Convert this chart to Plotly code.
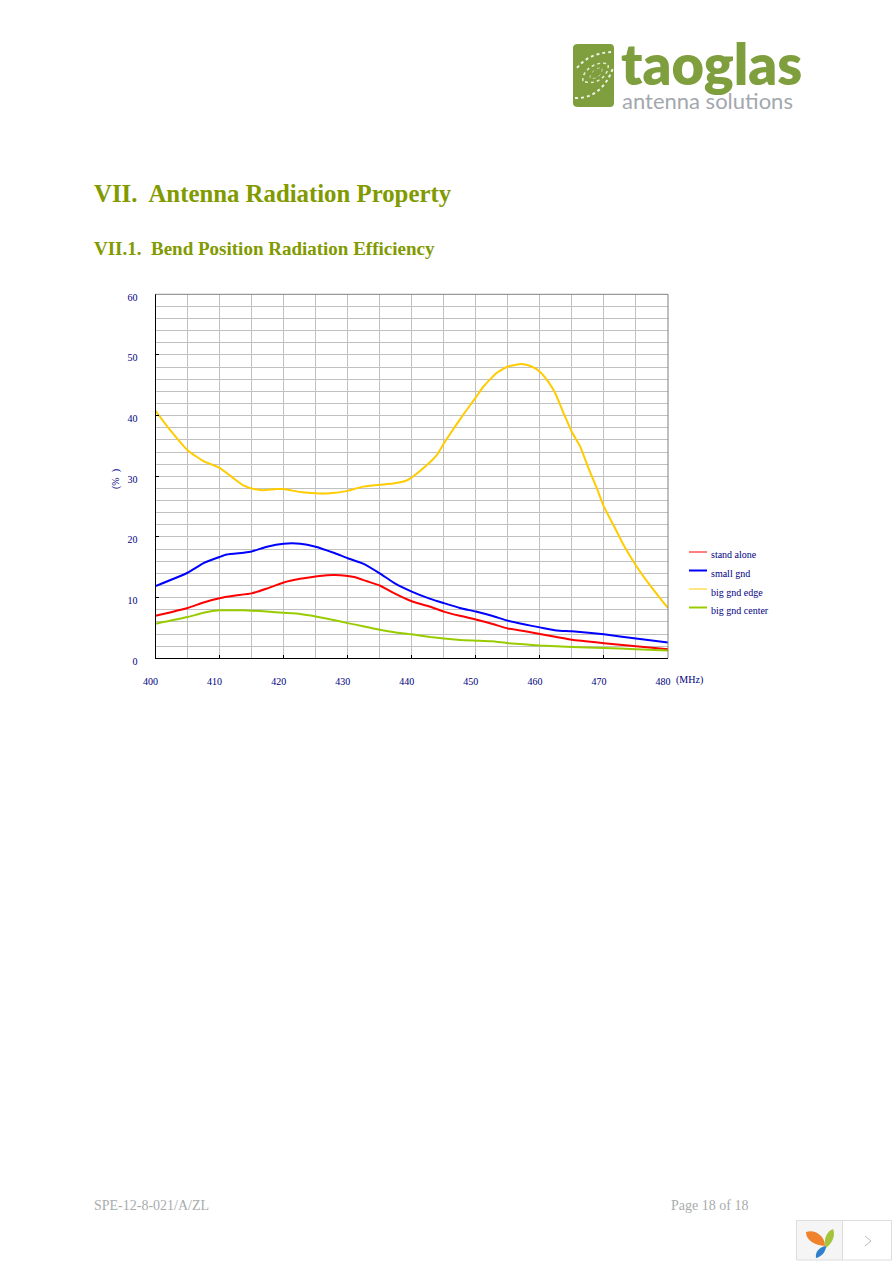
import plotly.graph_objects as go

W, H = 892, 1262

# ---------- data ----------
series_names = ["stand alone", "small gnd", "big gnd edge", "big gnd center"]
series_colors = ["#FF0000", "#0000FF", "#FFCC00", "#99CC00"]

red_x = [400, 405, 407.5, 410, 412.2, 415, 417.4, 420, 422.6, 425, 426.7, 428.9, 431, 433, 435,
         437.3, 440, 442.9, 445, 447.5, 450, 452.5, 455, 457.5, 460, 462.6, 465, 470, 475, 480]
red_y = [7.0, 8.3, 9.2, 9.9, 10.3, 10.7, 11.5, 12.5, 13.1, 13.5, 13.7, 13.7, 13.4, 12.7, 12.0,
         10.7, 9.4, 8.5, 7.7, 7.0, 6.4, 5.7, 4.9, 4.5, 4.0, 3.5, 3.05, 2.5, 2.0, 1.5]

blue_x = [400, 405, 407.5, 410, 411.1, 413.7, 415, 417.4, 420, 422.6, 425, 427.8, 430, 432.4, 435,
          437.3, 440, 442.9, 445, 447.5, 450, 452.5, 455, 457.5, 460, 462.6, 465, 470, 475, 480]
blue_y = [11.9, 14.1, 15.7, 16.7, 17.1, 17.4, 17.6, 18.4, 18.9, 18.9, 18.4, 17.4, 16.5, 15.6, 14.0,
          12.4, 11.0, 9.8, 9.1, 8.3, 7.7, 7.0, 6.2, 5.6, 5.1, 4.6, 4.45, 3.95, 3.25, 2.6]

yellow_x = [400, 402.3, 405, 407.5, 410, 411.9, 413.7, 415, 416.6, 418.9, 420, 422.6, 425, 427.2,
            430, 432.4, 435, 437.1, 439.2, 440, 442.1, 443.9, 445, 446.7, 448, 450, 451.2, 453.2,
            455, 457.2, 458.7, 460, 461.3, 462.4, 463.7, 465, 466.3, 467.6, 468.9, 470, 471.9,
            473, 475, 477, 479, 480]
yellow_y = [40.8, 37.6, 34.3, 32.5, 31.4, 29.9, 28.5, 28.0, 27.7, 27.9, 27.9, 27.4, 27.2, 27.2,
            27.6, 28.3, 28.6, 28.8, 29.3, 29.8, 31.6, 33.5, 35.4, 38.1, 40.1, 43.0, 44.8, 47.0,
            48.1, 48.5, 48.1, 47.25, 45.6, 43.7, 40.4, 37.3, 34.9, 31.3, 28.0, 25.0, 21.1,
            18.8, 15.3, 12.3, 9.6, 8.3]

green_x = [400, 405, 407.5, 410, 413.7, 417.4, 420, 422.6, 425, 427.8, 430, 432.4, 435, 437.3, 440,
           442.9, 445, 447.5, 450, 452.5, 455, 457.5, 460, 465, 470, 475, 480]
green_y = [5.7, 6.8, 7.5, 7.9, 7.9, 7.7, 7.5, 7.3, 6.9, 6.3, 5.8, 5.3, 4.7, 4.3, 3.95,
           3.5, 3.25, 3.0, 2.9, 2.8, 2.5, 2.3, 2.1, 1.85, 1.7, 1.5, 1.3]

x_ticks = [400, 410, 420, 430, 440, 450, 460, 470, 480]
y_ticks = [0, 10, 20, 30, 40, 50, 60]

heading = "VII.  Antenna Radiation Property"
subheading = "VII.1.  Bend Position Radiation Efficiency"
footer_left = "SPE-12-8-021/A/ZL"
footer_right = "Page 18 of 18"
x_unit = "(MHz)"
y_unit = "(%  )"


def X(p):
    return p / W


def Y(p):
    return 1 - p / H


NAVY = "#000080"
OLIVE = "#809A00"
fig = go.Figure()
for name, color, xs, ys in zip(series_names, series_colors,
                               [red_x, blue_x, yellow_x, green_x],
                               [red_y, blue_y, yellow_y, green_y]):
    fig.add_trace(go.Scatter(x=xs, y=ys, name=name, mode="lines",
                             line=dict(color=color, width=2, shape="spline", smoothing=0.5),
                             showlegend=False))

shapes = []
annots = []


def text(s, px, py, size, color, family="Liberation Serif", bold=False, anchor="left", angle=0, weight=None):
    f = dict(size=size, color=color, family=family)
    if weight:
        f["weight"] = weight
    # annotations carry about 2px of padding on the anchored side
    dx = -2 if anchor == "left" else 0
    annots.append(dict(text=f"<b>{s}</b>" if bold else s, x=X(px + dx), y=Y(py), xref="paper", yref="paper",
                       xanchor=anchor, yanchor="middle", showarrow=False, textangle=angle, font=f))


def path(pts, fill=None, line=None, width=1, dash=None, close=False):
    d = ""
    for seg in pts:
        d += seg[0]
        v = seg[1:]
        d += " ".join(f"{v[i]},{v[i+1]}" for i in range(0, len(v), 2)) + " "
    if close:
        d += "Z"
    s = dict(type="path", path=d, xref="paper", yref="paper", layer="above",
             line=dict(width=width if line else 0, color=line or "rgba(0,0,0,0)"))
    if dash:
        s["line"]["dash"] = dash
    if fill:
        s["fillcolor"] = fill
    shapes.append(s)


def pp(seq):
    out = []
    for seg in seq:
        c = seg[0]
        v = seg[1:]
        nv = []
        for i in range(0, len(v), 2):
            nv += [round(X(v[i]), 5), round(Y(v[i + 1]), 5)]
        out.append((c, *nv))
    return out


# headings and footer
text(heading, 94, 193.5, 24.8, OLIVE, bold=True)
text(subheading, 94, 249, 19, OLIVE, bold=True)
text(footer_left, 94, 1205, 14, "#A8ACAC")
text(footer_right, 671, 1205, 14, "#A8ACAC")

# axis units
text(x_unit, 675.5, 680, 10, NAVY)
text(y_unit, 116, 479, 10, NAVY, anchor="center", angle=-90)

# plot frame top / right
shapes.append(dict(type="line", xref="x domain", yref="y domain", x0=0, x1=1, y0=1, y1=1,
                   line=dict(color="#808080", width=1), layer="above"))
shapes.append(dict(type="line", xref="x domain", yref="y domain", x0=1, x1=1, y0=0, y1=1,
                   line=dict(color="#808080", width=1), layer="above"))

# legend
legend_y = [552, 570.5, 589, 607.5]
legend_w = [1, 2, 1, 2]
for n, c, ly, lw in zip(series_names, series_colors, legend_y, legend_w):
    shapes.append(dict(type="line", xref="paper", yref="paper", x0=X(689), x1=X(707), y0=Y(ly), y1=Y(ly),
                       line=dict(color=c, width=lw)))
    text(n, 710.5, ly + 3, 10, NAVY)

# logo
LG = "#7F9F3F"
path(pp([("M", 578, 44), ("L", 610, 44), ("Q", 614, 44, 614, 48), ("L", 614, 103), ("Q", 614, 107, 610, 107),
         ("L", 578, 107), ("Q", 573, 107, 573, 103), ("L", 573, 48), ("Q", 573, 44, 578, 44)]),
     fill=LG, close=True)
path(pp([("M", 577, 68), ("C", 585, 58, 596, 53, 611, 52)]), line="#EEF2E2", width=2, dash="dot")
path(pp([("M", 575, 98), ("C", 592, 99, 606, 88, 613, 68)]), line="#EEF2E2", width=2, dash="dot")
path(pp([("M", 583, 81), ("C", 581, 72, 595, 60, 608, 64), ("C", 610, 74, 597, 87, 583, 81)]),
     line="#E4EBD2", width=1.5, dash="dot")
path(pp([("M", 590, 78), ("C", 590, 72, 597, 67, 602, 68), ("C", 603, 74, 597, 80, 590, 78)]),
     line="#C9D6A8", width=1, dash="dot")
text("taoglas", 620.5, 63, 56, LG, family="Lato", weight=800)
text("antenna solutions", 622, 100.5, 22, "#A3A7AE", family="Lato")

# corner widget
shapes.append(dict(type="rect", xref="paper", yref="paper", x0=X(796.5), x1=X(842.5), y0=Y(1260), y1=Y(1220.5),
                   fillcolor="#F5F5F5", line=dict(color="#DDDDDD", width=1)))
shapes.append(dict(type="rect", xref="paper", yref="paper", x0=X(842.5), x1=X(891.5), y0=Y(1260), y1=Y(1220.5),
                   fillcolor="#FFFFFF", line=dict(color="#DDDDDD", width=1)))
path(pp([("M", 806, 1232), ("C", 815, 1229, 825, 1236, 825, 1246), ("C", 815, 1245, 806, 1241, 806, 1232)]),
     fill="#F0822D", close=True)
path(pp([("M", 833, 1229), ("C", 836, 1236, 832, 1243, 826, 1248), ("C", 823, 1240, 826, 1232, 833, 1229)]),
     fill="#A4C43C", close=True)
path(pp([("M", 826, 1246), ("C", 826, 1252, 821, 1257, 816, 1258), ("C", 815, 1252, 819, 1247, 826, 1246)]),
     fill="#2F80CC", close=True)
path(pp([("M", 865, 1236), ("L", 871, 1241), ("L", 865, 1246)]), line="#BBBBBB", width=1)

fig.update_layout(
    width=W, height=H, margin=dict(l=0, r=0, t=0, b=0, autoexpand=False),
    paper_bgcolor="white", plot_bgcolor="white", showlegend=False,
    shapes=shapes, annotations=annots,
    font=dict(family="Liberation Serif", size=10, color=NAVY),
    xaxis=dict(domain=[155.5 / W, 668 / W], range=[400, 480], tickmode="array", tickvals=x_ticks,
               automargin=False,
               ticks="inside", ticklen=3, tickcolor="black", showline=True, linecolor="black", linewidth=1,
               showgrid=True, gridcolor="#C0C0C0", gridwidth=1, zeroline=False,
               minor=dict(dtick=5, showgrid=True, gridcolor="#C0C0C0", gridwidth=1, ticks=""),
               tickfont=dict(size=10, color=NAVY, family="Liberation Serif"),
               ticklabelshift=-5, ticklabelstandoff=14),
    yaxis=dict(domain=[1 - 658.3 / H, 1 - 294.3 / H], range=[0, 60], tickmode="array", tickvals=y_ticks,
               automargin=False,
               ticks="inside", ticklen=3, tickcolor="black", showline=True, linecolor="black", linewidth=1,
               showgrid=True, gridcolor="#C0C0C0", gridwidth=1, zeroline=False,
               minor=dict(dtick=2, showgrid=True, gridcolor="#C0C0C0", gridwidth=1, ticks=""),
               tickfont=dict(size=10, color=NAVY, family="Liberation Serif"),
               ticklabelshift=3, ticklabelstandoff=15),
)

fig.write_html("out.html", config={"displayModeBar": False},
               post_script="document.body.style.margin='0';")
